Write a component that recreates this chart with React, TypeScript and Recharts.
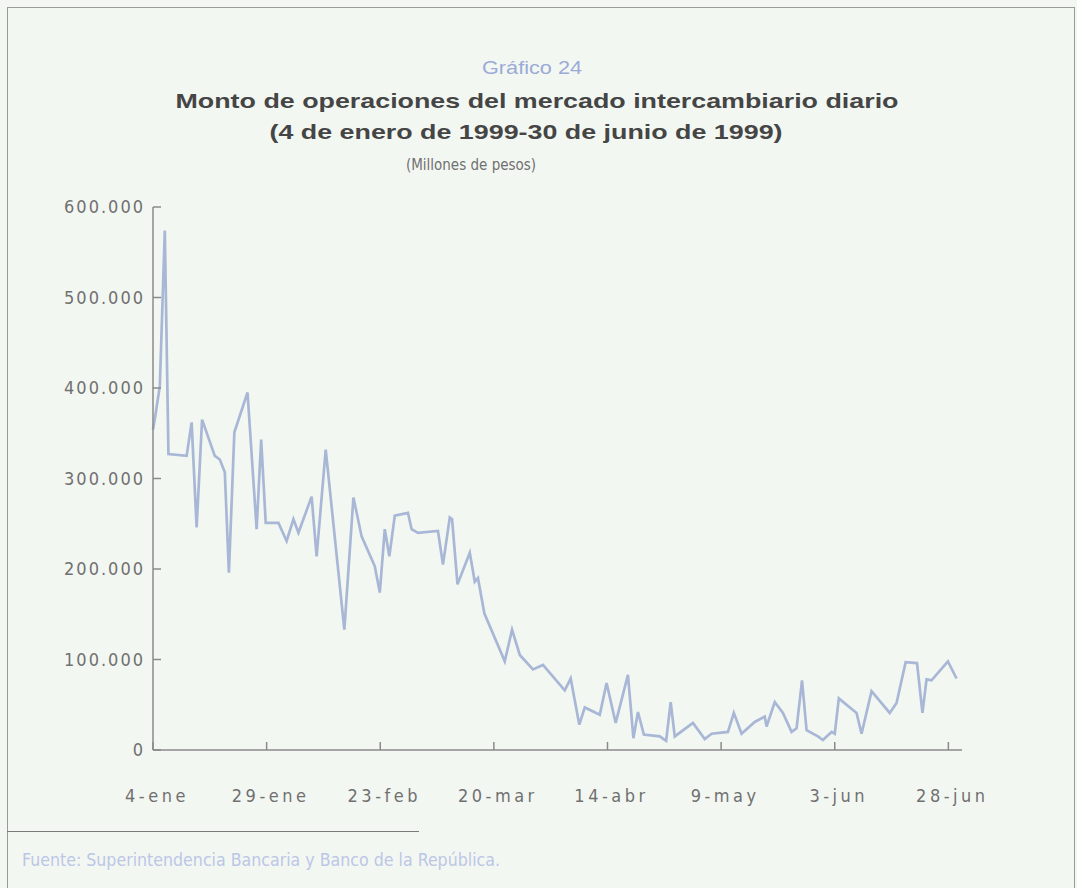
import React from "react";
import { LineChart, Line, XAxis, YAxis } from "recharts";

// días transcurridos desde el 4 de enero de 1999
const days = [
  0, 0.5, 1.5, 2.6, 3.4, 7.4, 8.5, 9.6, 10.8, 13.6, 14.7, 15.8, 16.7, 17.9,
  20.8, 22.8, 23.8, 24.8, 27.6, 29.4, 30.9, 32.0, 34.9, 36.0, 38.0, 42.1,
  44.1, 45.9, 48.8, 49.9, 51.0, 52.0, 53.2, 56.1, 56.9, 58.3, 62.7, 63.8,
  65.3, 65.8, 67.0, 69.7, 70.8, 71.5, 72.9, 77.4, 79.0, 80.7, 83.6, 85.8,
  90.6, 91.9, 93.8, 95.0, 98.3, 99.8, 101.8, 104.5, 105.7, 106.7, 108.0,
  111.5, 112.9, 113.9, 114.8, 118.8, 121.4, 122.9, 126.5, 127.8, 129.5,
  132.4, 134.6, 135.0, 136.8, 138.6, 140.5, 141.6, 142.8, 143.8, 146.3,
  147.4, 149.3, 150.0, 150.9, 154.8, 155.9, 158.1, 162.1, 163.6, 165.6,
  168.1, 169.3, 170.2, 171.3, 174.9, 176.8,
];

// millones de pesos
const montos = [
  354000, 369000, 402000, 574000, 327000, 325000, 362000, 246000, 365000,
  325000, 321000, 307000, 196000, 351000, 395000, 244000, 343000, 251000,
  251000, 231000, 255000, 240000, 280000, 214000, 332000, 133000, 279000,
  236000, 203000, 174000, 244000, 214000, 259000, 262000, 244000, 240000,
  242000, 205000, 257000, 255000, 183000, 218000, 186000, 190000, 151000,
  98000, 133000, 105000, 89000, 94000, 66000, 79000, 28000, 47000, 39000,
  74000, 30000, 83000, 13000, 42000, 17000, 15000, 10000, 53000, 15000,
  30000, 12000, 18000, 20000, 41000, 18000, 31000, 37000, 26000, 53000,
  41000, 20000, 24000, 77000, 22000, 15000, 11000, 20000, 18000, 57000,
  41000, 18000, 65000, 41000, 52000, 97000, 96000, 41000, 78000, 77000,
  98000, 79000,
];

const xTicks = [0, 25, 50, 75, 100, 125, 150, 175];
const xLabels = ["4-ene", "29-ene", "23-feb", "20-mar", "14-abr", "9-may", "3-jun", "28-jun"];
const yTicks = [0, 100000, 200000, 300000, 400000, 500000, 600000];

const data = days.map((d, i) => ({ day: d, monto: montos[i] }));

const BG = "#f3f7f2";
const AXIS = "#8a8a8a";
const LINE = "#a9b7d7";
const LABEL = "#707070";
const NARROW = "'Liberation Sans Narrow', 'DejaVu Sans Condensed', 'Roboto', sans-serif";
const SANS = "'Liberation Sans', Arial, sans-serif";

const formatMonto = (v: number) =>
  v === 0 ? "0" : v.toString().replace(/\B(?=(\d{3})+(?!\d))/g, ".");

const YTick = (props: any) => {
  const { x, y, payload } = props;
  return (
    <g>
      <line x1={x + 10} x2={x + 18} y1={y} y2={y} stroke={AXIS} strokeWidth={1.5} />
      <text x={x + 2} y={y} dy={6} textAnchor="end" fill={LABEL} fontSize={18} letterSpacing={2} fontFamily={NARROW}>
        {formatMonto(payload.value)}
      </text>
    </g>
  );
};

const XTick = (props: any) => {
  const { x, y, payload } = props;
  const idx = xTicks.indexOf(payload.value);
  return (
    <g>
      <line x1={x} x2={x} y1={y} y2={y - 8} stroke={AXIS} strokeWidth={1.5} />
      <text x={x + 4} y={y} dy={52} textAnchor="middle" fill={LABEL} fontSize={18} letterSpacing={3.5} fontFamily={NARROW}>
        {xLabels[idx]}
      </text>
    </g>
  );
};

export default function App() {
  return (
    <div
      style={{
        position: "absolute",
        left: 0,
        top: 0,
        width: 1077,
        height: 888,
        background: BG,
        overflow: "hidden",
      }}
    >
      <div
        style={{
          position: "absolute",
          left: 7,
          top: 7,
          width: 1066,
          height: 900,
          borderTop: "1.5px solid #9a9a9a",
          borderLeft: "1.5px solid #9a9a9a",
          borderRight: "1.5px solid #9a9a9a",
        }}
      />
      <svg width={1077} height={200} style={{ position: "absolute", left: 0, top: 0 }}>
        <text x={532} y={74} textAnchor="middle" fill="#9aabd6" fontSize={19} fontFamily={SANS} textLength={100} lengthAdjust="spacingAndGlyphs">
          Gráfico 24
        </text>
        <text x={537} y={108} textAnchor="middle" fill="#454545" fontSize={21} fontWeight="bold" fontFamily={SANS} textLength={723} lengthAdjust="spacingAndGlyphs">
          Monto de operaciones del mercado intercambiario diario
        </text>
        <text x={526} y={139} textAnchor="middle" fill="#454545" fontSize={21} fontWeight="bold" fontFamily={SANS} textLength={513} lengthAdjust="spacingAndGlyphs">
          (4 de enero de 1999-30 de junio de 1999)
        </text>
        <text x={471} y={170} textAnchor="middle" fill="#707070" fontSize={15} fontFamily={NARROW}>
          (Millones de pesos)
        </text>
      </svg>
      <div style={{ position: "absolute", left: 0, top: 0 }}>
        <LineChart
          width={1077}
          height={850}
          data={data}
          margin={{ top: 207, right: 115, bottom: 60, left: 73 }}
        >
          <XAxis
            dataKey="day"
            type="number"
            domain={[0, 178]}
            ticks={xTicks}
            tick={<XTick />}
            tickSize={0}
            tickMargin={0}
            tickLine={false}
            axisLine={{ stroke: AXIS, strokeWidth: 1.5 }}
            height={40}
            interval={0}
          />
          <XAxis
            xAxisId="top"
            orientation="top"
            dataKey="day"
            type="number"
            domain={[0, 178]}
            tick={false}
            tickLine={false}
            axisLine={{ stroke: AXIS, strokeWidth: 1.5 }}
            height={0}
          />
          <YAxis
            domain={[0, 600000]}
            ticks={yTicks}
            tick={<YTick />}
            tickSize={0}
            tickMargin={10}
            tickLine={false}
            axisLine={{ stroke: AXIS, strokeWidth: 1.5 }}
            width={80}
            interval={0}
          />
          <YAxis
            yAxisId="right"
            orientation="right"
            domain={[0, 600000]}
            tick={false}
            tickLine={false}
            axisLine={{ stroke: AXIS, strokeWidth: 1.5 }}
            width={0}
          />
          <Line
            dataKey="monto"
            stroke={LINE}
            strokeWidth={2.7}
            dot={false}
            isAnimationActive={false}
            strokeLinejoin="miter"
          />
        </LineChart>
      </div>
      <div
        style={{
          position: "absolute",
          left: 7,
          top: 831,
          width: 412,
          height: 0,
          borderTop: "1.5px solid #7a7a7a",
        }}
      />
      <svg width={1077} height={40} style={{ position: "absolute", left: 0, top: 845 }}>
        <text x={22} y={21} fill="#bcc6e6" fontSize={17} fontFamily={NARROW} textLength={478} lengthAdjust="spacingAndGlyphs">
          Fuente: Superintendencia Bancaria y Banco de la República.
        </text>
      </svg>
    </div>
  );
}
